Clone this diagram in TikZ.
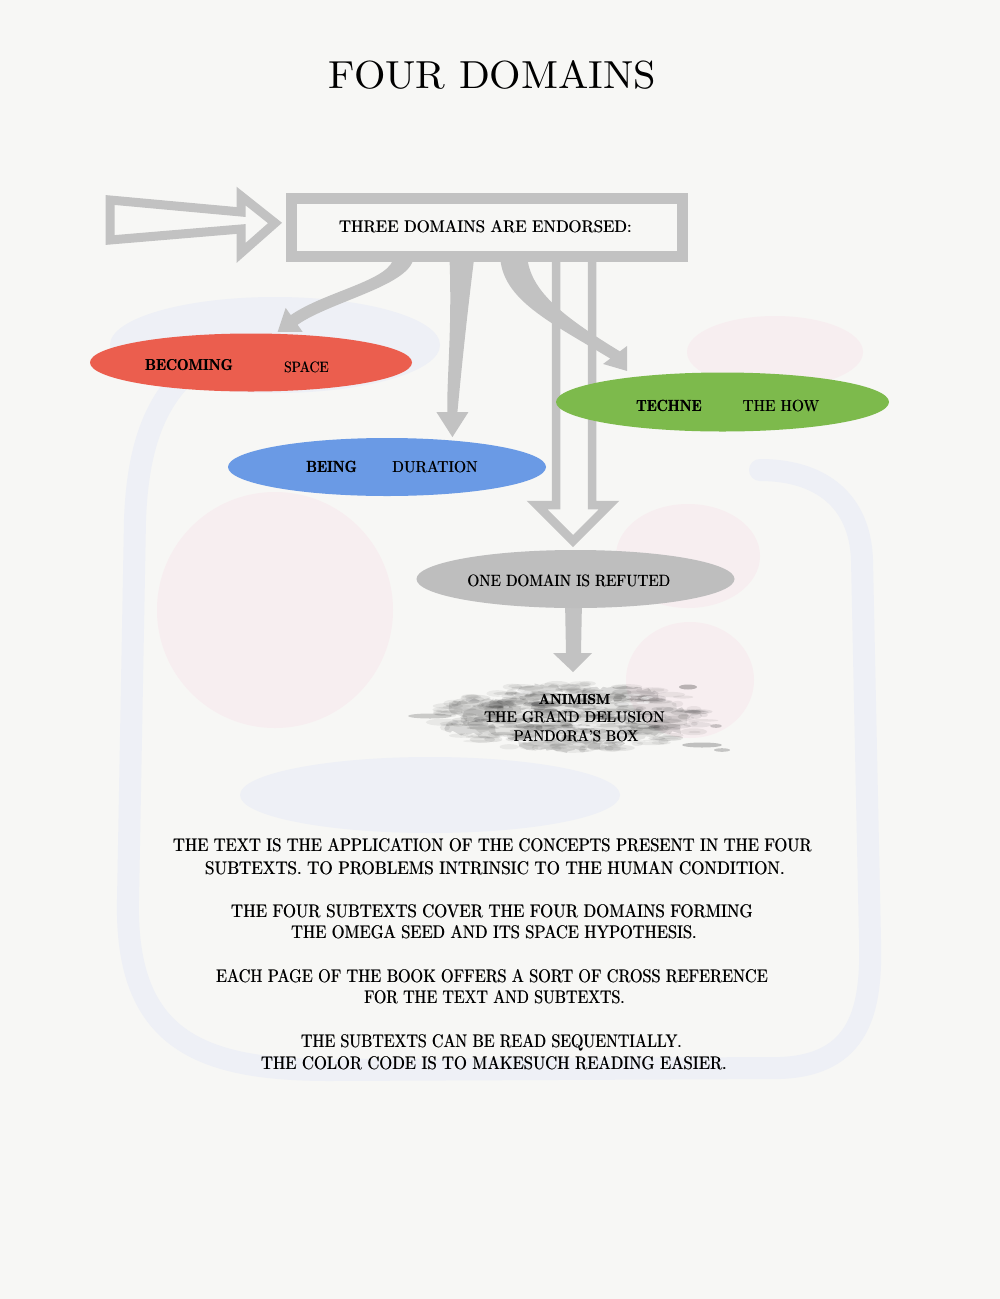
\documentclass[tikz,border=0pt]{standalone}
\usepackage{graphicx}
\usetikzlibrary{arrows.meta,shapes.geometric,decorations.pathmorphing,calc}
\pgfdeclarelayer{paper}
\pgfdeclarelayer{arrows}
\pgfsetlayers{paper,arrows,main}
\definecolor{bgc}{HTML}{F7F7F5}
\definecolor{arr}{HTML}{C2C2C2}
\definecolor{redd}{HTML}{EB5E4E}
\definecolor{grn}{HTML}{7DBA4C}
\definecolor{blu}{HTML}{6A9AE5}
\definecolor{gry}{HTML}{BEBEBE}
\definecolor{ghostblue}{HTML}{EEF0F6}
\definecolor{ghostpink}{HTML}{F7EEF0}
\newcommand{\fitt}[3]{\resizebox{#1pt}{#2pt}{#3}}
\newcommand{\fb}[1]{\rlap{#1}\kern0.3pt\relax#1}
\begin{document}
\begin{tikzpicture}[x=1pt,y=-1pt,
  dom/.style={ellipse,inner sep=0pt,outer sep=0pt,draw=none},
  lbl/.style={inner sep=0pt,outer sep=0pt,anchor=base,text=black},
  fat/.style={fill=arr,draw=none},
  hollow/.style={draw=arr,line width=9pt,line join=miter,fill=none}]
\begin{pgfonlayer}{paper}
\fill[bgc] (0,0) rectangle (1000,1299);
% faint show-through of the other side of the page
\draw[ghostblue,line width=22pt,line cap=round]
  (360,318) .. controls (200,330) and (140,380) .. (135,520)
  -- (128,900) .. controls (125,1040) and (200,1070) .. (330,1070)
  -- (780,1068) .. controls (860,1065) and (872,1010) .. (870,940)
  -- (862,560) .. controls (860,500) and (820,470) .. (760,470);
\fill[ghostblue] (275,345) ellipse (165 and 48);
\fill[ghostpink] (275,610) circle (118);
\fill[ghostpink] (688,556) ellipse (72 and 52);
\fill[ghostpink] (690,680) ellipse (64 and 58);
\fill[ghostpink] (775,352) ellipse (88 and 36);
\fill[ghostblue] (430,795) ellipse (190 and 38);
\end{pgfonlayer}
\useasboundingbox (0,0) rectangle (1000,1299);

% title
\node[lbl] (title) at (492.5,88) {\fitt{327}{28}{FOUR DOMAINS}};

% endorsing box
\node[draw=arr,line width=11pt,minimum width=391pt,minimum height=58pt,inner sep=0pt] (box) at (486.5,227) {};
\node[lbl] (boxtxt) at (485.5,232) {\fitt{293}{12}{\fb{THREE DOMAINS ARE ENDORSED:}}};

% domains
\node[dom,fill=redd,minimum width=322pt,minimum height=58pt] (becoming) at (251,362.5) {};
\node[lbl] (becA) at (189,370) {\fitt{88}{11}{\bfseries\fb{BECOMING}}};
\node[lbl] (becB) at (306.5,372) {\fitt{45}{10.7}{\fb{SPACE}}};

\node[dom,fill=grn,minimum width=333pt,minimum height=59pt] (techne) at (722.5,402) {};
\node[lbl] (tecA) at (669,411) {\fitt{66}{11.3}{\bfseries\fb{TECHNE}}};
\node[lbl] (tecB) at (781,411) {\fitt{77}{11.3}{\fb{THE HOW}}};

\node[dom,fill=blu,minimum width=318pt,minimum height=58pt] (being) at (387,467) {};
\node[lbl] (beiA) at (331.5,472) {\fitt{51}{11.3}{\bfseries\fb{BEING}}};
\node[lbl] (beiB) at (435,472.5) {\fitt{86}{11.3}{\fb{DURATION}}};

\node[dom,fill=gry,minimum width=318pt,minimum height=58pt] (refuted) at (575.5,579) {};
\node[lbl] (refT) at (569,586) {\fitt{203}{11.7}{\fb{ONE DOMAIN IS REFUTED}}};

% cloud of animism
\pgfmathsetseed{11}
\fill[black!40,opacity=.22,decorate,decoration={random steps,segment length=5pt,amplitude=3pt}]
  (575,717) ellipse (112 and 25);
\foreach \i in {1,...,320}{
  \pgfmathsetmacro\aa{rnd*360}
  \pgfmathsetmacro\rr{sqrt(rnd)}
  \pgfmathsetmacro\px{572+138*\rr*cos(\aa)}
  \pgfmathsetmacro\py{717+34*\rr*sin(\aa)}
  \pgfmathsetmacro\ex{3+rnd*14}
  \pgfmathsetmacro\ey{1+rnd*2.5}
  \pgfmathsetmacro\op{0.05+0.16*rnd*(1.1-\rr)}
  \fill[black,opacity=\op] (\px,\py) ellipse ({\ex} and {\ey});
}
% darker patches
\foreach \cx/\cy/\rx/\ry in {485/708/35/9, 620/694/38/7, 560/745/40/6, 650/728/30/6, 470/728/25/6, 540/690/22/5}{
  \fill[black,opacity=.12,decorate,decoration={random steps,segment length=4pt,amplitude=2pt}]
    (\cx,\cy) ellipse ({\rx} and {\ry});
}
\foreach \i in {1,...,60}{
  \pgfmathsetmacro\px{500+rnd*150}
  \pgfmathsetmacro\py{690+rnd*55}
  \pgfmathsetmacro\ex{2+rnd*7}
  \fill[white,opacity=.4] (\px,\py) ellipse ({\ex} and 1.3);
}
\fill[black,opacity=.18] (430,716) ellipse (22 and 2.5);
\fill[black,opacity=.22] (702,745) ellipse (20 and 2.5);
\fill[black,opacity=.2] (722,750) ellipse (8 and 1.8);
\fill[black,opacity=.25] (688,687) ellipse (9 and 2.5);
\fill[black,opacity=.2] (716,726) ellipse (6 and 1.8);

\node[lbl] (animism) at (574.5,704) {\fitt{72}{10}{\bfseries\fb{ANIMISM}}};
\node[lbl] (delusion) at (574.5,722.7) {\fitt{181}{11}{\fb{THE GRAND DELUSION}}};
\node[lbl] (pandora) at (576,741) {\fitt{125}{11}{\fb{PANDORA'S BOX}}};

% arrow tips (named)
\coordinate (T1) at ([shift={(0,-2)}]becoming.47);
\coordinate (T2) at ([shift={(0,-3.5)}]being.22);
\coordinate (T3) at ([shift={(1,-7)}]techne.166);
\coordinate (T4) at ([shift={(-2.5,-9)}]refuted.north);
\coordinate (T5) at ([shift={(-1.5,-32)}]animism.base);

\begin{pgfonlayer}{arrows}
% incoming hollow arrow into the box
\draw[hollow] ([shift={(-10.5,-4)}]box.west) -- ++(-34,-27) -- ++(0,16) -- ++(-131,-12)
  -- ++(0,40) -- ++(131,-11) -- ++(0,24) -- cycle;
% box -> becoming
\begin{scope}[shift={(T1)}]
\fill[fat] (116,-76) .. controls (116,-52) and (48,-41) .. (13.1,-16.8) -- (8,-24) -- (0,0)
  -- (25,0) -- (19.9,-7.2) .. controls (54,-31) and (136,-47) .. (136,-76) -- cycle;
\end{scope}
% box -> being
\begin{scope}[shift={(T2)}]
\fill[fat] (-3,-181) .. controls (0,-107) and (-6,-57) .. (-5,-25) -- (-16,-25) -- (0,0)
  -- (16,-25) -- (5,-25) .. controls (9,-67) and (14,-117) .. (22,-181) -- cycle;
\end{scope}
% box -> techne
\begin{scope}[shift={(T3)}]
\fill[fat] (-100,-115) .. controls (-97,-81) and (-67,-56) .. (-7.2,-19.6) -- (0,-25) -- (0,0)
  -- (-24,-7) -- (-16.8,-12.4) .. controls (-77,-49) and (-125,-71) .. (-127,-115) -- cycle;
\end{scope}
% box -> refuted (double-lined hollow arrow)
\begin{scope}[shift={(T4)}]
\draw[hollow,line width=8.5pt] (-17,-289) -- (-17,-36) -- (-36,-36) -- (0,0) -- (36,-36) -- (19,-36) -- (19,-289);
\end{scope}
% refuted -> animism
\begin{scope}[shift={(T5)}]
\fill[fat] (-8,-72) -- (-7,-19) -- (-20,-19) -- (0,0) -- (19,-19) -- (8,-19) -- (9,-72) -- cycle;
\end{scope}
\end{pgfonlayer}

% explanatory text
\node[lbl] (l1) at (492.5,851) {\fitt{639}{13}{\fb{THE TEXT IS THE APPLICATION OF THE CONCEPTS PRESENT IN THE FOUR}}};
\node[lbl] (l2) at (495,874) {\fitt{580}{13}{\fb{SUBTEXTS. TO PROBLEMS INTRINSIC TO THE HUMAN CONDITION.}}};
\node[lbl] (l3) at (492,917) {\fitt{522}{13}{\fb{THE FOUR SUBTEXTS COVER THE FOUR DOMAINS FORMING}}};
\node[lbl] (l4) at (494,938) {\fitt{406}{13}{\fb{THE OMEGA SEED AND ITS SPACE HYPOTHESIS.}}};
\node[lbl] (l5) at (492,982) {\fitt{552}{13}{\fb{EACH PAGE OF THE BOOK OFFERS A SORT OF CROSS REFERENCE}}};
\node[lbl] (l6) at (494.5,1003) {\fitt{261}{13}{\fb{FOR THE TEXT AND SUBTEXTS.}}};
\node[lbl] (l7) at (491.5,1047) {\fitt{381}{13}{\fb{THE SUBTEXTS CAN BE READ SEQUENTIALLY.}}};
\node[lbl] (l8) at (494,1069) {\fitt{466}{13}{\fb{THE COLOR CODE IS TO MAKESUCH READING EASIER.}}};
\end{tikzpicture}
\end{document}
